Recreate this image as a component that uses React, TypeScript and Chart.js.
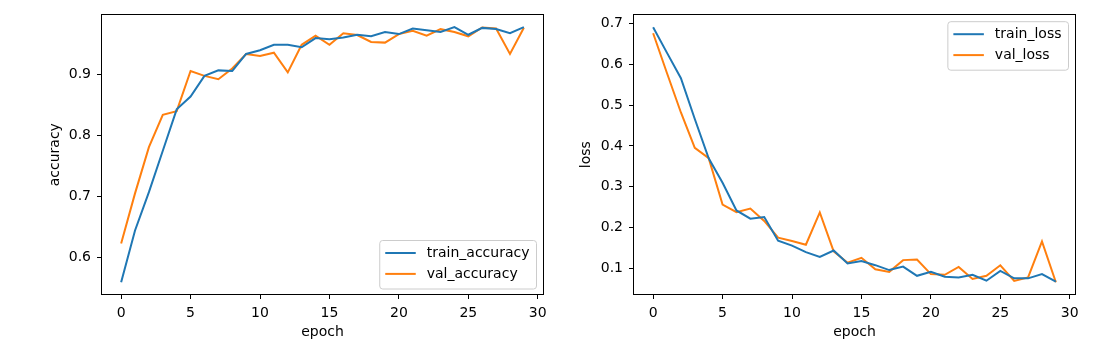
import React, { useEffect, useRef } from "react";
import { Chart, registerables } from "chart.js";

Chart.register(...registerables);

const epochs = [0, 1, 2, 3, 4, 5, 6, 7, 8, 9, 10, 11, 12, 13, 14, 15, 16, 17, 18, 19, 20, 21, 22, 23, 24, 25, 26, 27, 28, 29];

const trainAccuracy = [0.559, 0.644, 0.707, 0.775, 0.843, 0.864, 0.898, 0.907, 0.906, 0.934, 0.94, 0.949, 0.949, 0.945, 0.96, 0.958, 0.961, 0.9655, 0.963, 0.97, 0.9666, 0.9757, 0.973, 0.97, 0.978, 0.9655, 0.9768, 0.975, 0.968, 0.978];
const valAccuracy = [0.6225, 0.705, 0.781, 0.834, 0.84, 0.906, 0.898, 0.8924, 0.91, 0.934, 0.9306, 0.936, 0.9037, 0.949, 0.964, 0.949, 0.968, 0.965, 0.9537, 0.9526, 0.9666, 0.972, 0.964, 0.9747, 0.97, 0.963, 0.9774, 0.9757, 0.934, 0.977];

const trainLoss = [0.691, 0.628, 0.566, 0.466, 0.37, 0.31, 0.242, 0.222, 0.226, 0.168, 0.156, 0.14, 0.128, 0.144, 0.112, 0.118, 0.108, 0.096, 0.1045, 0.082, 0.0916, 0.0796, 0.078, 0.0844, 0.07, 0.094, 0.0757, 0.0757, 0.0861, 0.0677];
const valLoss = [0.676, 0.578, 0.482, 0.3955, 0.37, 0.2563, 0.238, 0.2468, 0.2163, 0.1755, 0.167, 0.158, 0.2372, 0.142, 0.1141, 0.1261, 0.098, 0.0916, 0.1204, 0.122, 0.0861, 0.0845, 0.1036, 0.0741, 0.082, 0.1077, 0.0693, 0.0782, 0.166, 0.0662];

const xTicks = [0, 5, 10, 15, 20, 25, 30];
const accTicks = [0.6, 0.7, 0.8, 0.9];
const lossTicks = [0.1, 0.2, 0.3, 0.4, 0.5, 0.6, 0.7];

const BLUE = "#1f77b4";
const ORANGE = "#ff7f0e";
const FAMILY = "'DejaVu Sans', sans-serif";
const FONT = { family: FAMILY, size: 14 };

function bounds(arrs: number[][]) {
  const all = arrs.flat();
  const lo = Math.min(...all);
  const hi = Math.max(...all);
  const m = (hi - lo) * 0.05;
  return { min: lo - m, max: hi + m };
}

const mplPlugin = {
  id: "mplFrame",
  afterDatasetsDraw(chart: any, _args: any, opts: any) {
    const { ctx, chartArea: a } = chart;
    ctx.save();
    ctx.strokeStyle = "#000";
    ctx.lineWidth = 1;
    const l = Math.round(a.left) + 0.5;
    const t = Math.round(a.top) + 0.5;
    const r = Math.round(a.right) - 0.5;
    const b = Math.round(a.bottom) - 0.5;
    ctx.strokeRect(l, t, r - l, b - t);

    // legend
    ctx.font = `14px ${FAMILY}`;
    const items = chart.data.datasets.map((d: any) => ({ label: d.label, color: d.borderColor }));
    const textW = Math.max(...items.map((i: any) => ctx.measureText(i.label).width));
    const padL = 5.5, handle = 30.5, gap = 11, padR = 7;
    const w = padL + handle + gap + textW + padR;
    const h = 48.5;
    const x = a.right - 7.5 - w;
    const y = opts.corner === "lr" ? a.bottom - 6 - h : a.top + 7.3;
    const rad = 3;
    ctx.beginPath();
    ctx.moveTo(x + rad, y);
    ctx.lineTo(x + w - rad, y);
    ctx.quadraticCurveTo(x + w, y, x + w, y + rad);
    ctx.lineTo(x + w, y + h - rad);
    ctx.quadraticCurveTo(x + w, y + h, x + w - rad, y + h);
    ctx.lineTo(x + rad, y + h);
    ctx.quadraticCurveTo(x, y + h, x, y + h - rad);
    ctx.lineTo(x, y + rad);
    ctx.quadraticCurveTo(x, y, x + rad, y);
    ctx.closePath();
    ctx.fillStyle = "rgba(255,255,255,0.8)";
    ctx.fill();
    ctx.strokeStyle = "#cccccc";
    ctx.lineWidth = 1;
    ctx.stroke();
    const rows = [12.5, 33.4];
    items.forEach((it: any, i: number) => {
      const cy = y + rows[i];
      ctx.strokeStyle = it.color;
      ctx.lineWidth = 2;
      ctx.beginPath();
      ctx.moveTo(x + padL, cy);
      ctx.lineTo(x + padL + handle, cy);
      ctx.stroke();
      ctx.fillStyle = "#000";
      ctx.textBaseline = "middle";
      ctx.textAlign = "left";
      ctx.fillText(it.label, x + padL + handle + gap, cy);
    });
    ctx.restore();
  },
};

type PanelProps = {
  left: number;
  width: number;
  yLabel: string;
  names: string[];
  series: number[][];
  yTicks: number[];
  yAxisWidth: number;
  yTitlePad: number;
  padRight: number;
  corner: string;
};

function Panel(p: PanelProps) {
  const ref = useRef<HTMLCanvasElement>(null);
  useEffect(() => {
    if (!ref.current) return;
    const yb = bounds(p.series);
    const xb = bounds([epochs]);
    const tickGrid = {
      drawOnChartArea: false,
      drawTicks: true,
      tickLength: 4,
      tickColor: "#000",
      tickWidth: 1,
    };
    const chart = new Chart(ref.current, {
      type: "line",
      data: {
        datasets: p.series.map((s, i) => ({
          label: p.names[i],
          data: epochs.map((e, j) => ({ x: e, y: s[j] })),
          borderColor: i === 0 ? BLUE : ORANGE,
          backgroundColor: i === 0 ? BLUE : ORANGE,
          borderWidth: 2,
          pointRadius: 0,
          tension: 0,
          fill: false,
        })),
      },
      options: {
        responsive: false,
        animation: false,
        layout: { padding: { left: 0, right: p.padRight, top: 10, bottom: 0 } },
        plugins: {
          legend: { display: false },
          tooltip: { enabled: false },
          mplFrame: { corner: p.corner },
        } as any,
        scales: {
          x: {
            type: "linear",
            bounds: "data",
            min: xb.min,
            max: xb.max,
            afterBuildTicks: (s: any) => {
              s.ticks = xTicks.map((v) => ({ value: v }));
            },
            afterFit: (s: any) => {
              s.height = 58;
            },
            grid: tickGrid,
            border: { display: false },
            ticks: {
              font: FONT,
              color: "#000",
              padding: 6,
              maxRotation: 0,
              autoSkip: false,
              callback: (v: any) => String(v),
            },
            title: {
              display: true,
              text: "epoch",
              font: FONT,
              color: "#000",
              padding: { top: 0, bottom: 12 },
            },
          },
          y: {
            type: "linear",
            bounds: "data",
            min: yb.min,
            max: yb.max,
            afterBuildTicks: (s: any) => {
              s.ticks = p.yTicks.map((v) => ({ value: v }));
            },
            afterFit: (s: any) => {
              s.width = p.yAxisWidth;
            },
            grid: tickGrid,
            border: { display: false },
            ticks: {
              font: FONT,
              color: "#000",
              padding: 6,
              autoSkip: false,
              callback: (v: any) => Number(v).toFixed(1),
            },
            title: {
              display: true,
              text: p.yLabel,
              font: FONT,
              color: "#000",
              padding: { top: p.yTitlePad, bottom: 0 },
            },
          },
        },
      },
      plugins: [mplPlugin],
    });
    return () => chart.destroy();
  }, []);
  return (
    <canvas
      ref={ref}
      width={p.width}
      height={353}
      style={{ position: "absolute", left: p.left, top: 0, width: p.width, height: 353, display: "block" }}
    />
  );
}

export default function App() {
  return (
    <div style={{ position: "absolute", left: 0, top: 0, width: 1097, height: 353, background: "#fff" }}>
      <Panel
        left={0}
        width={560}
        yLabel="accuracy"
        names={["train_accuracy", "val_accuracy"]}
        series={[trainAccuracy, valAccuracy]}
        yTicks={accTicks}
        yAxisWidth={101}
        yTitlePad={46.6}
        padRight={16}
        corner="lr"
      />
      <Panel
        left={560}
        width={537}
        yLabel="loss"
        names={["train_loss", "val_loss"]}
        series={[trainLoss, valLoss]}
        yTicks={lossTicks}
        yAxisWidth={73}
        yTitlePad={18.3}
        padRight={21}
        corner="ur"
      />
    </div>
  );
}
